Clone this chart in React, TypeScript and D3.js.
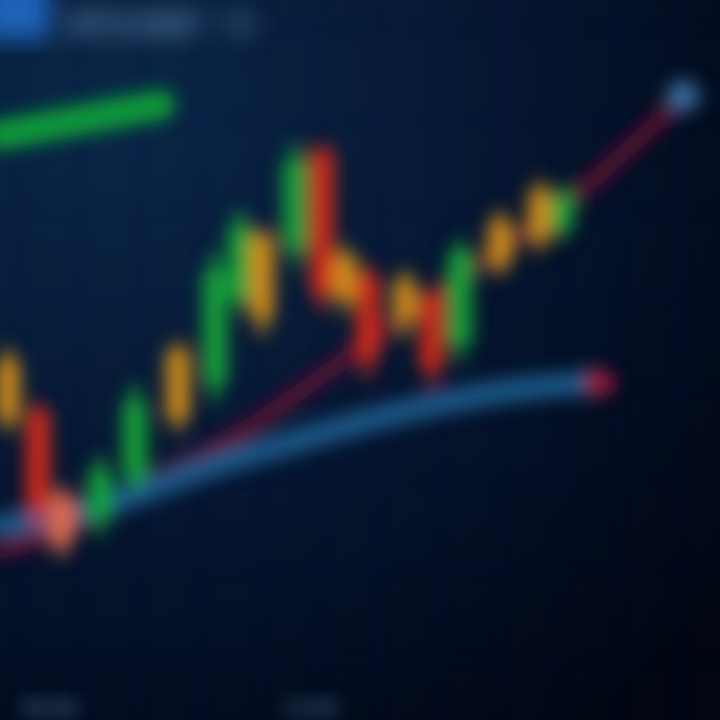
import { useEffect, useRef } from "react"
import * as d3 from "d3"

// session positions (hours) and candle prices
const CANDLE_T     = [0.8, 3.8, 6.2, 10, 13.5, 17.8, 21.5, 24, 26.2, 29.5, 32.2, 34.5, 36.8, 40.5, 43.2, 46, 50, 54, 56.2]
const CANDLE_OPEN  = [60, 51.7, 37.5, 33.3, 40, 61.7, 55.8, 70, 80.8, 78.3, 95, 77.5, 74.2, 66.7, 70.8, 62.5, 83.3, 88.3, 81.7]
const CANDLE_CLOSE = [50, 35, 29.2, 41.7, 53.3, 50, 75, 82.5, 66.7, 93.3, 70.8, 70, 60, 73.3, 58.3, 78.3, 75.8, 80, 87.5]
const CANDLE_HIGH  = [62, 53, 39, 44, 56, 63, 78, 85, 82, 96, 96, 79, 76, 75, 72, 80, 85, 90, 89]
const CANDLE_LOW   = [48, 32, 27, 31, 38, 48, 53, 68, 64, 76, 68, 68, 57, 64, 56, 60, 74, 78, 80]
const CANDLE_TONE  = ["orange", "red", "coral", "green", "green", "orange", "green", "green", "orange", "green", "red", "orange", "red", "orange", "red", "green", "orange", "orange", "green"]

// moving averages
const MA_FAST_T = [0, 6, 12, 20, 30, 40, 50, 59]
const MA_FAST_V = [32.5, 33.7, 36.7, 41.7, 46.7, 51.3, 54.7, 56.3]
const MA_SLOW_T = [0, 6, 13, 23, 33, 45, 57, 67]
const MA_SLOW_V = [28.3, 31.3, 38, 46.7, 58.3, 72.5, 86.7, 101.7]

// green marker line, top left
const MARK_T = [0, 8, 16]
const MARK_V = [97.5, 100, 102.5]

const HEADER = ["BTC/USDT", "1H"]
const X_TICKS = [5, 31]
const X_LABELS = ["09:00", "12:00"]

const TONE: Record<string, string> = {
  green:  "#18a03a",
  orange: "#cc8a1e",
  red:    "#cc2c1e",
  coral:  "#dc6c4c",
}

const W = 720
const H = 720

export default function App() {
  const svgRef = useRef<SVGSVGElement>(null)

  useEffect(() => {
    if (!svgRef.current) return
    const svg = d3.select(svgRef.current)
    svg.selectAll("*").remove()
    svg.attr("width", W).attr("height", H)

    const x = d3.scaleLinear().domain([0, 72]).range([0, W])
    const y = d3.scaleLinear().domain([0, 120]).range([H, 0])

    const defs = svg.append("defs")
    const bg = defs.append("radialGradient").attr("id", "bg")
      .attr("cx", 0.15).attr("cy", 0.15).attr("r", 1.1)
    bg.append("stop").attr("offset", "0%").attr("stop-color", "#0b2748")
    bg.append("stop").attr("offset", "50%").attr("stop-color", "#061631")
    bg.append("stop").attr("offset", "100%").attr("stop-color", "#010612")

    const blur = (id: string, sd: number) =>
      defs.append("filter").attr("id", id)
        .attr("x", "-20%").attr("y", "-20%").attr("width", "140%").attr("height", "140%")
        .append("feGaussianBlur").attr("stdDeviation", sd)
    blur("b5", 5)
    blur("b9", 9)
    blur("b12", 12)

    svg.append("rect").attr("width", W).attr("height", H).attr("fill", "url(#bg)")

    // Grid
    const grid = svg.append("g").attr("filter", "url(#b5)")
    d3.range(2, 72, 6).forEach((t) => {
      grid.append("line")
        .attr("x1", x(t)).attr("x2", x(t)).attr("y1", 0).attr("y2", H)
        .attr("stroke", "#12345a").attr("stroke-width", 3).attr("opacity", 0.22)
    })
    d3.range(10, 120, 15).forEach((v) => {
      grid.append("line")
        .attr("x1", 0).attr("x2", W).attr("y1", y(v)).attr("y2", y(v))
        .attr("stroke", "#12345a").attr("stroke-width", 2).attr("opacity", 0.18)
    })

    // Header (out of focus)
    const head = svg.append("g").attr("filter", "url(#b12)")
    head.append("rect").attr("x", -20).attr("y", -20).attr("width", 70).attr("height", 60).attr("fill", "#1f63b8")
    HEADER.forEach((t, i) => {
      head.append("text")
        .attr("x", 70 + i * 150).attr("y", 34)
        .attr("fill", i === 0 ? "#6f9cc0" : "#55809f")
        .attr("font-family", "Roboto, sans-serif").attr("font-size", 28).attr("font-weight", 700)
        .text(t)
    })

    const chart = svg.append("g").attr("filter", "url(#b9)")
    const line = d3.line<[number, number]>().x((d) => x(d[0])).y((d) => y(d[1])).curve(d3.curveMonotoneX)

    // Slow MA (dark red)
    chart.append("path")
      .attr("d", line(MA_SLOW_T.map((t, i) => [t, MA_SLOW_V[i]]))!)
      .attr("fill", "none").attr("stroke", "#6e1232").attr("stroke-width", 16)
      .attr("stroke-linecap", "round").attr("opacity", 0.85)
    chart.append("circle")
      .attr("cx", x(68.3)).attr("cy", y(104)).attr("r", 16).attr("fill", "#3a6a9a")

    // Fast MA (blue)
    chart.append("path")
      .attr("d", line(MA_FAST_T.map((t, i) => [t, MA_FAST_V[i]]))!)
      .attr("fill", "none").attr("stroke", "#1b5686").attr("stroke-width", 24)
      .attr("stroke-linecap", "round")
    chart.append("circle")
      .attr("cx", x(60)).attr("cy", y(56.2)).attr("r", 14).attr("fill", "#981638")

    // Green marker line
    chart.append("path")
      .attr("d", line(MARK_T.map((t, i) => [t, MARK_V[i]]))!)
      .attr("fill", "none").attr("stroke", "#109a3a").attr("stroke-width", 30)
      .attr("stroke-linecap", "round")

    // Candles: wick then body
    CANDLE_T.forEach((t, i) => {
      const c = TONE[CANDLE_TONE[i]]
      chart.append("line")
        .attr("x1", x(t)).attr("x2", x(t))
        .attr("y1", y(CANDLE_HIGH[i])).attr("y2", y(CANDLE_LOW[i]))
        .attr("stroke", c).attr("stroke-width", 8)
      const top = y(Math.max(CANDLE_OPEN[i], CANDLE_CLOSE[i]))
      const bot = y(Math.min(CANDLE_OPEN[i], CANDLE_CLOSE[i]))
      chart.append("rect")
        .attr("x", x(t) - 12).attr("width", 24)
        .attr("y", top).attr("height", bot - top)
        .attr("rx", 6)
        .attr("fill", c)
    })

    // X axis labels (out of focus)
    const axis = svg.append("g").attr("filter", "url(#b9)")
    X_TICKS.forEach((t, i) => {
      axis.append("text")
        .attr("x", x(t)).attr("y", 716)
        .attr("text-anchor", "middle")
        .attr("fill", "#5b86aa")
        .attr("font-family", "Roboto, sans-serif").attr("font-size", 22)
        .text(X_LABELS[i])
    })
  }, [])

  return (
    <div style={{ position: "fixed", left: 0, top: 0, width: W, height: H, overflow: "hidden", background: "#010612" }}>
      <svg ref={svgRef} style={{ display: "block" }} />
    </div>
  )
}
